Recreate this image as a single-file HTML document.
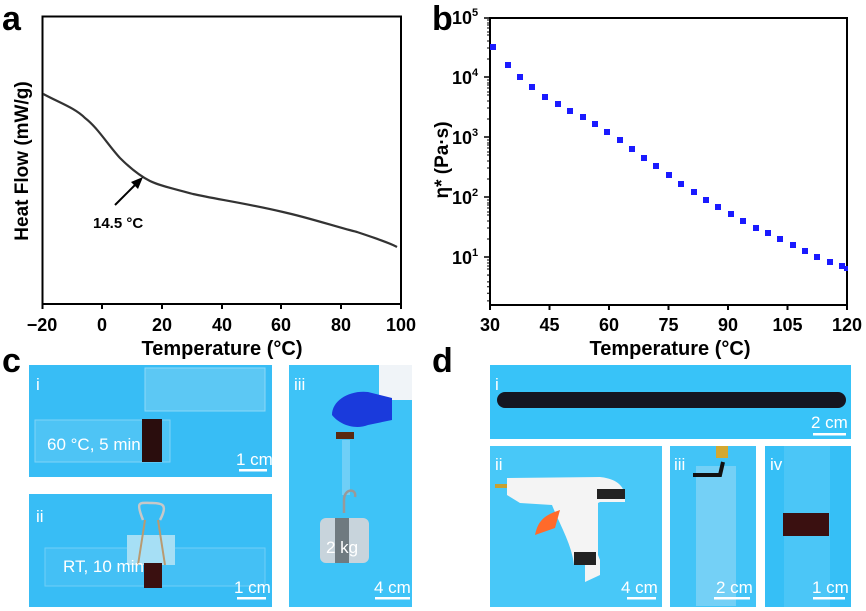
<!DOCTYPE html>
<html><head><meta charset="utf-8">
<style>
html,body{margin:0;padding:0;background:#fff;}
svg{display:block;font-family:"Liberation Sans",Arial,sans-serif;}
.lab{font-weight:bold;fill:#000;}
.w{fill:#fff;font-size:17px;}
</style></head><body>
<svg width="866" height="611" viewBox="0 0 866 611" xmlns="http://www.w3.org/2000/svg">
<!-- Panel a -->
<text x="2" y="30" font-size="34" class="lab">a</text>
<rect x="42.5" y="16.5" width="358.5" height="287.5" fill="none" stroke="#000" stroke-width="2"/>
<g stroke="#000" stroke-width="2">
<line x1="42.5" y1="304" x2="42.5" y2="309"/><line x1="102" y1="304" x2="102" y2="309"/>
<line x1="162" y1="304" x2="162" y2="309"/><line x1="222" y1="304" x2="222" y2="309"/>
<line x1="281" y1="304" x2="281" y2="309"/><line x1="341" y1="304" x2="341" y2="309"/>
<line x1="401" y1="304" x2="401" y2="309"/>
</g>
<g font-size="18" class="lab" text-anchor="middle">
<text x="42" y="331">−20</text><text x="102" y="331">0</text><text x="162" y="331">20</text>
<text x="222" y="331">40</text><text x="281" y="331">60</text><text x="341" y="331">80</text><text x="401" y="331">100</text>
<text x="222" y="355" font-size="20">Temperature (°C)</text>
<text transform="translate(28,161) rotate(-90)" font-size="19">Heat Flow (mW/g)</text>
</g>
<path d="M43.3,94 C60,103 75,108 85,118 C98,128 108,145 120,158 C130,168 140,176 150,181 C160,186 175,189 193,194 C215,199 245,203 283,212 C310,218 340,228 357,232 C375,238 390,243 397,247" fill="none" stroke="#333" stroke-width="2.2"/>
<line x1="115" y1="205" x2="137" y2="183" stroke="#000" stroke-width="2"/>
<polygon points="143,177 131,182 138,189" fill="#000"/>
<text x="93" y="228" font-size="15" class="lab">14.5 °C</text>

<!-- Panel b -->
<text x="432" y="30" font-size="34" class="lab">b</text>
<rect x="490" y="18" width="357" height="287" fill="none" stroke="#000" stroke-width="2"/>
<g stroke="#000" stroke-width="1.5">
<line x1="484" y1="18" x2="490" y2="18"/><line x1="484" y1="77" x2="490" y2="77"/>
<line x1="484" y1="137" x2="490" y2="137"/><line x1="484" y1="197" x2="490" y2="197"/>
<line x1="484" y1="257" x2="490" y2="257"/>
</g>
<g stroke="#000" stroke-width="1">
<path d="M487,300.9h3M487,293.3h3M487,286.7h3M487,281.9h3M487,275h3M487,275.1h3M487,269h3M487,266h3M487,263h3M487,260h3
M487,239h3M487,228h3M487,221h3M487,215h3M487,212h3M487,208h3M487,205h3M487,203h3M487,200h3
M487,179h3M487,168h3M487,161h3M487,155h3M487,152h3M487,148h3M487,145h3M487,143h3M487,140h3
M487,119h3M487,108h3M487,101h3M487,95h3M487,92h3M487,88h3M487,85h3M487,83h3M487,80h3
M487,59h3M487,48h3M487,41h3M487,35h3M487,32h3M487,28h3M487,25h3M487,23h3M487,20h3"/>
</g>
<g stroke="#000" stroke-width="2">
<line x1="490" y1="305" x2="490" y2="310"/><line x1="549.5" y1="305" x2="549.5" y2="310"/>
<line x1="609" y1="305" x2="609" y2="310"/><line x1="668.5" y1="305" x2="668.5" y2="310"/>
<line x1="728" y1="305" x2="728" y2="310"/><line x1="787.5" y1="305" x2="787.5" y2="310"/>
<line x1="847" y1="305" x2="847" y2="310"/>
</g>
<g class="lab" font-size="18">
<text x="452" y="24">10<tspan font-size="11" dy="-8">5</tspan></text>
<text x="452" y="84">10<tspan font-size="11" dy="-8">4</tspan></text>
<text x="452" y="144">10<tspan font-size="11" dy="-8">3</tspan></text>
<text x="452" y="204">10<tspan font-size="11" dy="-8">2</tspan></text>
<text x="452" y="264">10<tspan font-size="11" dy="-8">1</tspan></text>
</g>
<g font-size="18" class="lab" text-anchor="middle">
<text x="490" y="331">30</text><text x="549.5" y="331">45</text><text x="609" y="331">60</text>
<text x="668.5" y="331">75</text><text x="728" y="331">90</text><text x="787.5" y="331">105</text><text x="847" y="331">120</text>
<text x="670" y="355" font-size="20">Temperature (°C)</text>
<text transform="translate(448,160) rotate(-90)" font-size="19">η* (Pa·s)</text>
</g>
<g fill="#1a1aff">
<rect x="490" y="44" width="6" height="6"/><rect x="505" y="62" width="6" height="6"/>
<rect x="517" y="74" width="6" height="6"/><rect x="529" y="84" width="6" height="6"/>
<rect x="542" y="94" width="6" height="6"/><rect x="555" y="101" width="6" height="6"/>
<rect x="567" y="108" width="6" height="6"/><rect x="580" y="114" width="6" height="6"/>
<rect x="592" y="121" width="6" height="6"/><rect x="604" y="129" width="6" height="6"/>
<rect x="617" y="137" width="6" height="6"/><rect x="629" y="146" width="6" height="6"/>
<rect x="641" y="155" width="6" height="6"/><rect x="653" y="163" width="6" height="6"/>
<rect x="666" y="172" width="6" height="6"/><rect x="678" y="181" width="6" height="6"/>
<rect x="691" y="189" width="6" height="6"/><rect x="703" y="197" width="6" height="6"/>
<rect x="715" y="204" width="6" height="6"/><rect x="728" y="211" width="6" height="6"/>
<rect x="740" y="218" width="6" height="6"/><rect x="753" y="225" width="6" height="6"/>
<rect x="765" y="230" width="6" height="6"/><rect x="777" y="236" width="6" height="6"/>
<rect x="790" y="242" width="6" height="6"/><rect x="802" y="248" width="6" height="6"/>
<rect x="814" y="254" width="6" height="6"/><rect x="827" y="259" width="6" height="6"/>
<rect x="839" y="263" width="6" height="6"/><rect x="844" y="266" width="4" height="5"/>
</g>

<!-- Panel c -->
<text x="2" y="372" font-size="34" class="lab">c</text>
<!-- c-i -->
<rect x="29" y="365" width="243" height="112" fill="#38bdf5"/>
<rect x="145" y="368" width="120" height="43" fill="#5cc8f4" stroke="#8dd9f7" stroke-width="1"/>
<rect x="35" y="420" width="135" height="42" fill="#4ec4f5" stroke="#7fd3f6" stroke-width="1"/>
<rect x="142" y="419" width="20" height="43" fill="#2a0d0d"/>
<text x="36" y="390" class="w" font-size="20">i</text>
<text x="47" y="450" class="w">60 °C, 5 min</text>
<text x="236" y="465" class="w">1 cm</text>
<rect x="239" y="469" width="28" height="2.5" fill="#fff"/>
<!-- c-ii -->
<rect x="29" y="494" width="243" height="113" fill="#38bdf5"/>
<rect x="45" y="548" width="220" height="38" fill="#44c0f5" stroke="#6fcef6" stroke-width="1"/>
<rect x="127" y="535" width="48" height="30" fill="#a6dff5"/>
<path d="M143,520 C135,500 140,503 152,503 C163,503 168,505 160,520" fill="none" stroke="#c8c8c8" stroke-width="2.5"/>
<path d="M145,520 L138,565 M158,520 L165,565" stroke="#b99a70" stroke-width="2"/>
<rect x="144" y="563" width="18" height="25" fill="#3a1010"/>
<text x="36" y="522" class="w" font-size="20">ii</text>
<text x="63" y="572" class="w">RT, 10 min</text>
<text x="234" y="593" class="w">1 cm</text>
<rect x="237" y="597" width="29" height="2.5" fill="#fff"/>
<!-- c-iii -->
<rect x="289" y="365" width="123" height="242" fill="#3ec3f7"/>
<rect x="379" y="365" width="33" height="35" fill="#f0f4f8"/>
<path d="M332,415 C332,400 350,390 368,392 L392,398 L392,420 L368,425 C355,430 340,425 332,415Z" fill="#1a3adc"/>
<rect x="336" y="432" width="18" height="7" fill="#5a2a10"/>
<rect x="342" y="440" width="8" height="55" fill="#6fcff7"/>
<path d="M344,513 L344,500 C344,488 357,488 355,497" fill="none" stroke="#999" stroke-width="2.5"/>
<rect x="320" y="518" width="49" height="45" rx="6" fill="#c8d4dc"/>
<rect x="335" y="518" width="14" height="45" fill="#6f7a80"/>
<text x="326" y="553" class="w">2 kg</text>
<text x="374" y="593" class="w">4 cm</text>
<rect x="375" y="597" width="35" height="2.5" fill="#fff"/>
<text x="294" y="390" class="w" font-size="20">iii</text>

<!-- Panel d -->
<text x="432" y="372" font-size="34" class="lab">d</text>
<!-- d-i -->
<rect x="490" y="365" width="361" height="74" fill="#38c3f8"/>
<rect x="497" y="392" width="349" height="16" rx="8" fill="#151520"/>
<text x="495" y="390" class="w" font-size="20">i</text>
<text x="811" y="428" class="w">2 cm</text>
<rect x="813" y="433" width="33" height="2.5" fill="#fff"/>
<!-- d-ii -->
<rect x="490" y="446" width="172" height="161" fill="#48c8f8"/>
<path d="M507,478 L600,477 C610,478 625,482 625,498 L625,502 L600,502 L598,503 L598,555 L600,560 L600,575 L585,582 L585,565 L574,565 C572,545 560,525 552,505 L520,503 L507,495 Z" fill="#f4f4f4"/>
<path d="M560,510 C545,515 538,520 535,535 L555,528 Z" fill="#ff6a2a"/>
<rect x="597" y="489" width="28" height="10" fill="#222"/>
<rect x="574" y="552" width="22" height="13" fill="#222"/>
<rect x="495" y="484" width="12" height="4" fill="#c8a030"/>
<text x="495" y="470" class="w" font-size="20">ii</text>
<text x="621" y="593" class="w">4 cm</text>
<rect x="627" y="597" width="29" height="2.5" fill="#fff"/>
<!-- d-iii -->
<rect x="670" y="446" width="86" height="161" fill="#42c4f7"/>
<rect x="696" y="466" width="40" height="140" fill="#8ad6f5" opacity="0.7"/>
<path d="M693,475 L720,475 L723,462" stroke="#111" stroke-width="4" fill="none"/>
<rect x="716" y="446" width="12" height="12" fill="#d4a830"/>
<text x="674" y="470" class="w" font-size="20">iii</text>
<text x="716" y="593" class="w">2 cm</text>
<rect x="714" y="597" width="36" height="2.5" fill="#fff"/>
<!-- d-iv -->
<rect x="765" y="446" width="86" height="161" fill="#36bff6"/>
<rect x="784" y="446" width="46" height="161" fill="#4bc6f7"/>
<rect x="783" y="513" width="46" height="23" fill="#3a1010"/>
<text x="770" y="470" class="w" font-size="20">iv</text>
<text x="812" y="593" class="w">1 cm</text>
<rect x="813" y="597" width="32" height="2.5" fill="#fff"/>
</svg>
</body></html>
